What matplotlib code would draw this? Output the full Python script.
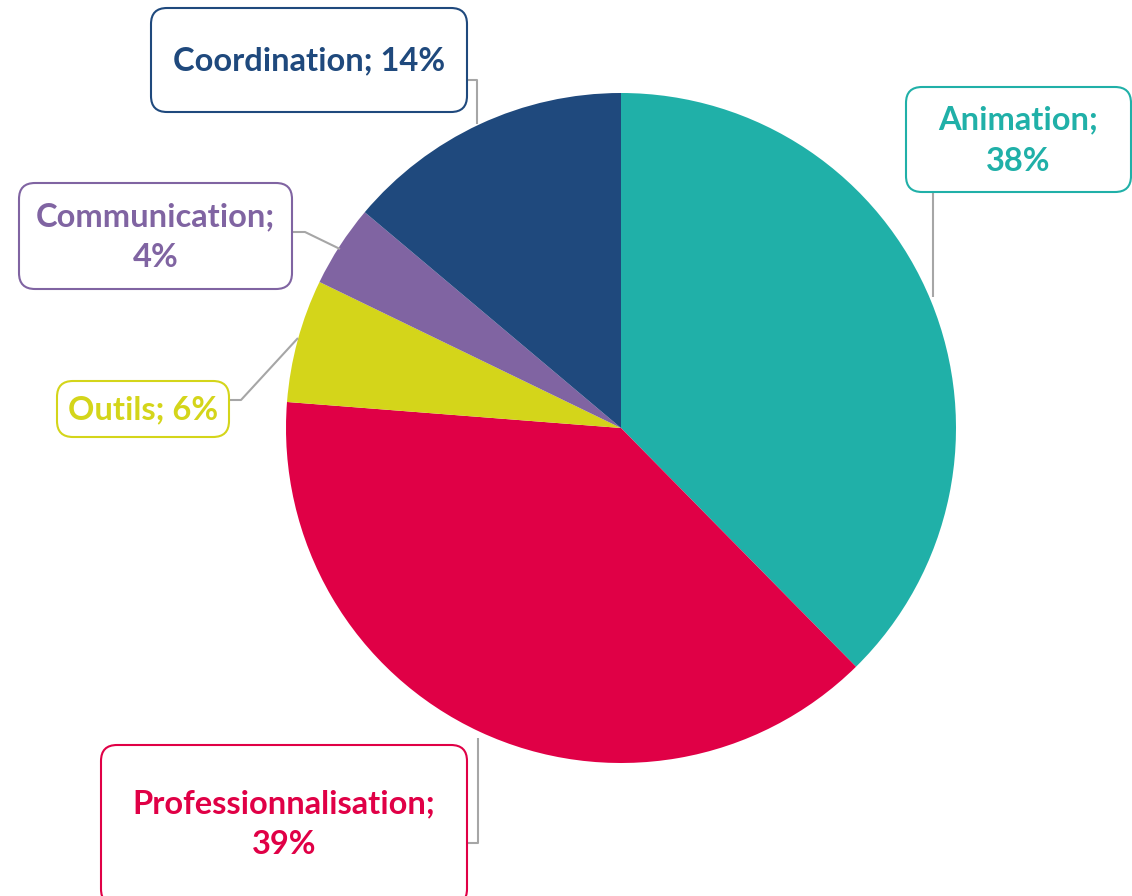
import matplotlib
matplotlib.use("Agg")
import matplotlib.pyplot as plt
from matplotlib.patches import FancyBboxPatch

# Donnees
categories = ["Animation", "Professionnalisation", "Outils", "Communication", "Coordination"]
values = [38, 39, 6, 4, 14]
colors = ["#20B0A8", "#E00046", "#D4D51A", "#8064A2", "#1F497D"]

W, H = 1132, 896
fig = plt.figure(figsize=(W / 100, H / 100), dpi=100)
ax = fig.add_axes([0, 0, 1, 1])

def Y(y):
    # pixel (haut) -> donnees
    return H - y

ax.pie(values, colors=colors, startangle=90, counterclock=False,
       center=(621, Y(428)), radius=335, frame=True,
       wedgeprops=dict(linewidth=0))
ax.set_xlim(0, W)
ax.set_ylim(0, H)
ax.set_aspect("equal")
ax.axis("off")

# boites : x0, y0, x1, y1 (pixels), lignes de rappel, deux lignes ?
boxes = {
    "Coordination": ((151, 8, 467, 112), [(467, 80), (477, 80), (477, 124)], False),
    "Animation": ((906, 87, 1131, 192), [(933, 192), (933, 297)], True),
    "Communication": ((19, 183, 292, 289), [(292, 232), (305, 232), (340, 249)], True),
    "Outils": ((57, 381, 229, 437), [(229, 400), (241, 400), (298, 338)], False),
    "Professionnalisation": ((101, 745, 467, 905), [(467, 843), (478, 843), (478, 738)], True),
}

for cat, val, col in zip(categories, values, colors):
    (x0, y0, x1, y1), pts, two = boxes[cat]
    xs = [p[0] for p in pts]
    ys = [Y(p[1]) for p in pts]
    ax.plot(xs, ys, color="#A6A6A6", lw=1.5, zorder=1, solid_capstyle="butt")
    pad = 16
    patch = FancyBboxPatch((x0 + pad, Y(y1) + pad), (x1 - x0) - 2 * pad, (y1 - y0) - 2 * pad,
                           boxstyle="round,pad=%d,rounding_size=16" % pad,
                           fc="white", ec=col, lw=1.5, zorder=3)
    ax.add_patch(patch)
    label = f"{cat};\n{val}%" if two else f"{cat}; {val}%"
    if cat == "Professionnalisation":
        cy = 824
    else:
        cy = (y0 + y1) / 2 + 1
    ax.text((x0 + x1) / 2, Y(cy), label, ha="center", va="center",
            color=col, fontsize=23.5, fontweight="bold", family="Lato",
            linespacing=1.5, zorder=4)

fig.savefig("out.png", dpi=100)
